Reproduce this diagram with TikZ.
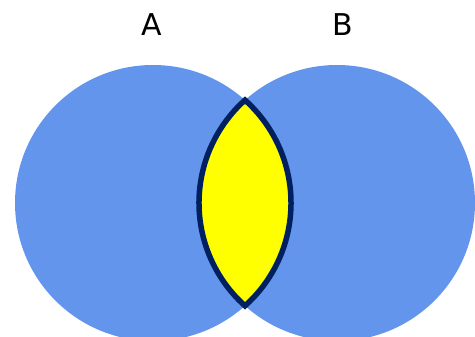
\documentclass[tikz,border=0pt]{standalone}
\usepackage{fontspec}
\setmainfont{DejaVu Sans}
\definecolor{vennblue}{RGB}{100,149,237}
\definecolor{lensyellow}{RGB}{255,255,0}
\definecolor{lensedge}{RGB}{0,32,96}
\begin{document}
\begin{tikzpicture}[x=1pt,y=1pt,
  setcircle/.style={fill=vennblue, draw=none},
  lens/.style={fill=lensyellow, draw=lensedge, line width=5.5pt, line join=miter},
  setlabel/.style={font=\fontsize{30}{30}\selectfont, text=black, inner sep=0pt}]
\useasboundingbox (0,0) rectangle (475,337);
\coordinate (ca) at (153,134);
\coordinate (cb) at (337,134);
\fill[setcircle] (ca) circle (138);
\fill[setcircle] (cb) circle (138);
\coordinate (top) at (245,236.9);
\path[lens] (top) arc[start angle=48.2, end angle=-48.2, radius=138]
  arc[start angle=228.2, end angle=131.8, radius=138] -- cycle;
\node[setlabel] (la) at (151.5,312) {A};
\node[setlabel] (lb) at (342.5,312) {B};
\end{tikzpicture}
\end{document}
